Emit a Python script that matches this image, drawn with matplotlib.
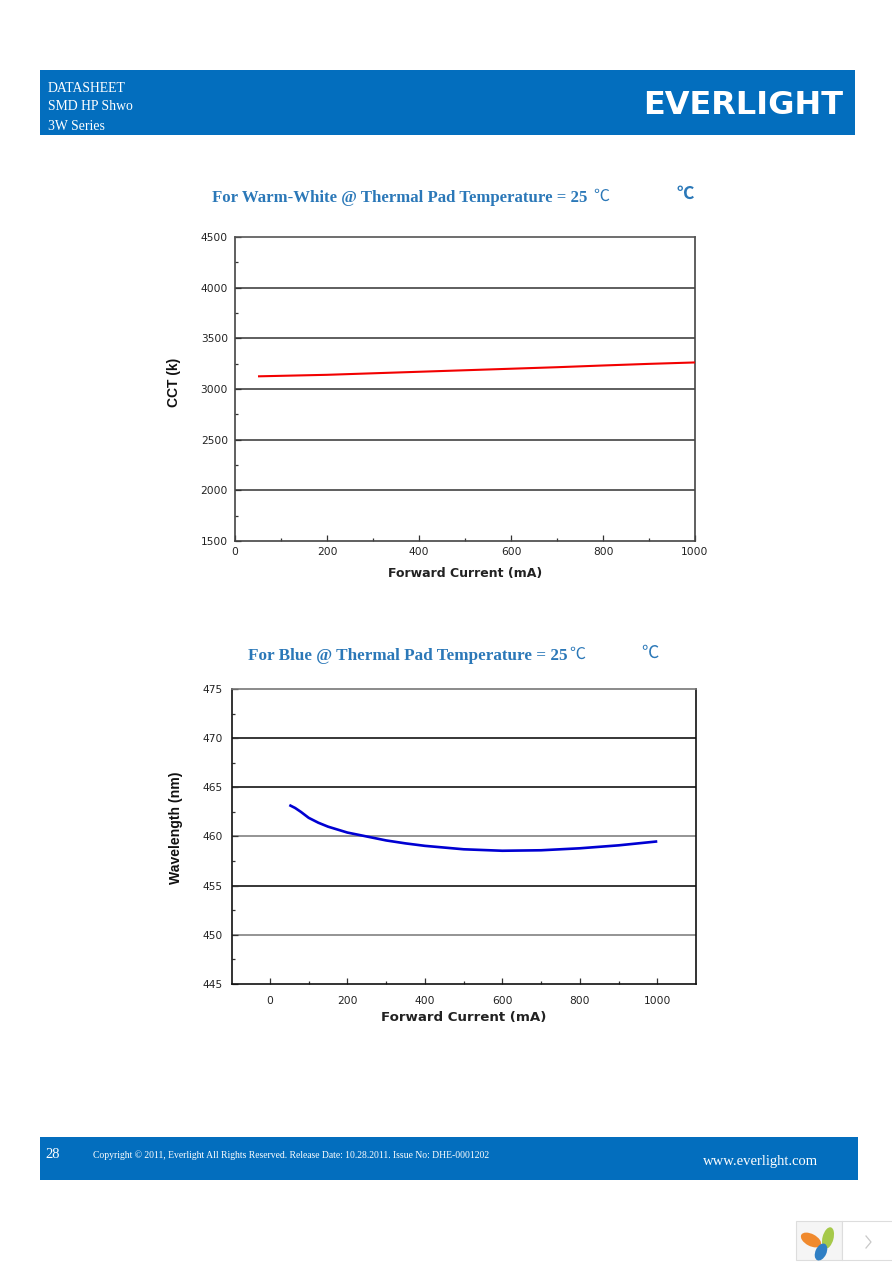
import matplotlib
matplotlib.use("Agg")
import matplotlib.pyplot as plt
from matplotlib.patches import Rectangle, Ellipse

W, H = 892, 1263
BLUE = "#036EBE"
TITLE = "#2B78B8"
SERIF = ["Liberation Serif", "Noto Sans CJK SC", "DejaVu Sans"]
SANS = ["Liberation Sans", "DejaVu Sans"]
WIDE = ["DejaVu Sans"]

current_ww = [50, 100, 200, 300, 400, 500, 600, 700, 800, 900, 1000]
cct_ww = [3125, 3130, 3140, 3155, 3170, 3185, 3200, 3215, 3232, 3248, 3262]
xticks_ww = [0, 200, 400, 600, 800, 1000]
yticks_ww = [1500, 2000, 2500, 3000, 3500, 4000, 4500]
yminor_ww = [1750, 2250, 2750, 3250, 3750, 4250]
xminor_ww = [100, 300, 500, 700, 900]

current_b = [50, 65, 80, 100, 125, 150, 200, 250, 300, 350, 400, 500, 600, 700, 800, 900, 1000]
wave_b = [463.2, 462.9, 462.5, 461.9, 461.4, 461.0, 460.4, 460.0, 459.6, 459.3, 459.05,
          458.7, 458.55, 458.6, 458.8, 459.1, 459.5]
xticks_b = [0, 200, 400, 600, 800, 1000]
yticks_b = [445, 450, 455, 460, 465, 470, 475]
yminor_b = [447.5, 452.5, 457.5, 462.5, 467.5, 472.5]
xminor_b = [100, 300, 500, 700, 900]

fig = plt.figure(figsize=(W / 100, H / 100), dpi=100, facecolor="white")

# overlay in pixel coordinates for the page furniture
page = fig.add_axes([0, 0, 1, 1])
page.set_xlim(0, W)
page.set_ylim(H, 0)
page.axis("off")
page.add_patch(Rectangle((40, 70), 815, 65, fc=BLUE, ec="none"))
page.add_patch(Rectangle((40, 1137), 818, 43, fc=BLUE, ec="none"))
for y, s in [(88, "DATASHEET"), (107, "SMD HP Shwo"), (126, "3W Series")]:
    page.text(48, y, s, color="white", family=SERIF, fontsize=9.9, va="center", ha="left")
page.text(743, 105, "EVERLIGHT", color="white", family=WIDE, fontsize=23,
          fontweight="bold", va="center", ha="center")
page.text(45, 1155, "28", color="white", family=SERIF, fontsize=10.5, va="center")
page.text(93, 1155, "Copyright © 2011, Everlight All Rights Reserved. Release Date: 10.28.2011. Issue No: DHE-0001202",
          color="white", family=SERIF, fontsize=6.9, va="center")
page.text(703, 1162, "www.everlight.com", color="white", family=SERIF, fontsize=10.5, va="center")

page.text(212, 197.5, "For Warm-White @ Thermal Pad Temperature = 25", color=TITLE, family=SERIF,
          fontsize=12.1, fontweight="bold", va="center")
page.text(601, 197, "℃", color=TITLE, family=SERIF, fontsize=11.5, va="center", ha="center")
page.text(685, 195, "℃", color=TITLE, family=SERIF, fontsize=12.5, fontweight="bold", va="center", ha="center")
page.text(248, 656, "For Blue @ Thermal Pad Temperature = 25", color=TITLE, family=SERIF,
          fontsize=12.3, fontweight="bold", va="center")
page.text(577, 655, "℃", color=TITLE, family=SERIF, fontsize=11.5, va="center", ha="center")
page.text(650, 654, "℃", color=TITLE, family=SERIF, fontsize=12.5, va="center", ha="center")

# corner badge
page.add_patch(Rectangle((796, 1221), 46, 39, fc="#F5F5F5", ec="#DDDDDD", lw=0.8))
page.add_patch(Rectangle((842, 1221), 52, 39, fc="white", ec="#DDDDDD", lw=0.8))
page.add_patch(Ellipse((811, 1240), 22, 12, angle=28, fc="#F08A2E", ec="none"))
page.add_patch(Ellipse((828, 1238), 11, 22, angle=15, fc="#A6C94A", ec="none"))
page.add_patch(Ellipse((821, 1252), 11, 18, angle=25, fc="#2F7FC4", ec="none"))
page.plot([866, 871, 866], [1236, 1242, 1248], color="#C8C8C8", lw=0.9)


def chart(box, xlim, ylim, xs, ys, color, lw, xticks, yticks, xminor, yminor, xlabel, ylabel,
          spine, top_spine, grid_colors, xlab, ylab, xpad, ypad, xlab_size, ylab_size):
    left, top, right, bottom = box
    ax = fig.add_axes([left / W, 1 - bottom / H, (right - left) / W, (bottom - top) / H])
    ax.patch.set_alpha(0)
    ax.set_xlim(*xlim)
    ax.set_ylim(*ylim)
    for s in ax.spines.values():
        s.set_color(spine)
        s.set_linewidth(1.2)
    ax.spines["top"].set_color(top_spine)
    for y, c in zip(yticks[1:-1], grid_colors):
        ax.axhline(y, color=c, lw=1.1, zorder=1)
    ax.plot(xs, ys, color=color, lw=lw, zorder=3, solid_capstyle="butt")
    ax.set_xticks(xticks)
    ax.set_yticks(yticks)
    ax.set_xticks(xminor, minor=True)
    ax.set_yticks(yminor, minor=True)
    ax.tick_params(which="major", direction="in", length=4, width=0.9, color="#333333",
                   labelsize=7.7, labelcolor="#222222")
    ax.tick_params(axis="x", which="major", pad=xpad)
    ax.tick_params(axis="y", which="major", pad=ypad)
    ax.tick_params(which="minor", direction="in", length=2.2, width=0.9, color="#333333")
    for t in ax.get_xticklabels() + ax.get_yticklabels():
        t.set_family(WIDE)
    page.text(xlab[0], xlab[1], xlabel, family=WIDE, fontsize=xlab_size,
              fontweight="bold", color="#222222", ha="center", va="center")
    page.text(ylab[0], ylab[1], ylabel, family=SANS, fontsize=ylab_size, fontweight="bold",
              color="#111111", rotation=90, ha="center", va="center")
    return ax


chart((235, 237, 695, 541), (0, 1000), (1500, 4500), current_ww, cct_ww, "#F20000", 1.5,
      xticks_ww, yticks_ww, xminor_ww, yminor_ww, "Forward Current (mA)", "CCT (k)",
      "#444444", "#555555", ["#333333"] * 5, (465, 574), (174, 382), 4, 5, 9.0, 10.0)
chart((232, 689, 696, 984), (-98, 1100), (445, 475), current_b, wave_b, "#0000D2", 1.9,
      xticks_b, yticks_b, xminor_b, yminor_b, "Forward Current (mA)", "Wavelength (nm)",
      "#111111", "#777777", ["#777777", "#000000", "#777777", "#000000", "#000000"],
      (464, 1017), (176, 828), 9, 6.5, 9.6, 10.1)

fig.savefig("out.png", dpi=100)
